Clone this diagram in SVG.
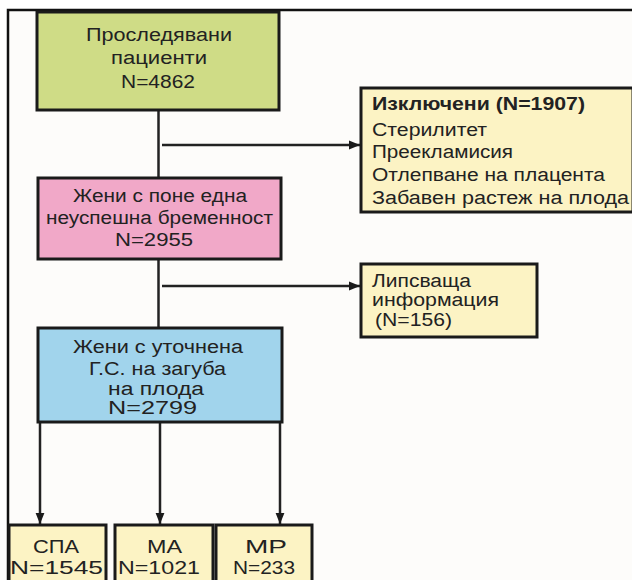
<svg xmlns="http://www.w3.org/2000/svg" width="632" height="580" viewBox="0 0 632 580">
<defs>
<marker id="ah" viewBox="0 0 10 10" refX="10" refY="5" markerWidth="11" markerHeight="11" markerUnits="userSpaceOnUse" orient="auto">
<path d="M0,1 L10,5 L0,9 Z" fill="#1a1a1a"/>
</marker>
<style>
.box{stroke:#1a1a1a;stroke-width:3}
.t{font-family:"Liberation Sans",Arial,sans-serif;font-size:18px;fill:#222}
.c{text-anchor:middle}
.b{font-weight:bold}
.ln{stroke:#222;stroke-width:2.5;fill:none}
</style>
</defs>
<rect x="0" y="0" width="632" height="580" fill="#ffffff"/>
<rect x="8" y="10" width="624" height="570" fill="#fdfcfa"/>
<path d="M8,580 V10 H632" fill="none" stroke="#111" stroke-width="2.5"/>

<g id="connectors">
<line class="ln" x1="158.5" y1="110" x2="158.5" y2="178"/>
<line class="ln" x1="162" y1="145" x2="360" y2="145" marker-end="url(#ah)"/>
<line class="ln" x1="158.5" y1="259" x2="158.5" y2="328"/>
<line class="ln" x1="162" y1="286" x2="360" y2="286" marker-end="url(#ah)"/>
<line class="ln" x1="40" y1="422" x2="40" y2="524" marker-end="url(#ah)"/>
<line class="ln" x1="160" y1="422" x2="160" y2="524" marker-end="url(#ah)"/>
<line class="ln" x1="280" y1="422" x2="280" y2="524" marker-end="url(#ah)"/>
</g>

<g id="n1">
<rect class="box" x="37" y="12" width="242" height="98" fill="#cfdc86"/>
<text class="t c" x="159" y="41" textLength="146" lengthAdjust="spacingAndGlyphs">Проследявани</text>
<text class="t c" x="159" y="64" textLength="96" lengthAdjust="spacingAndGlyphs">пациенти</text>
<text class="t c" x="158" y="88" textLength="74" lengthAdjust="spacingAndGlyphs">N=4862</text>
</g>

<g id="n2">
<rect class="box" x="38" y="178" width="243" height="81" fill="#f1a8c8"/>
<text class="t c" x="160" y="202" textLength="174" lengthAdjust="spacingAndGlyphs">Жени с поне една</text>
<text class="t c" x="159.5" y="224" textLength="227" lengthAdjust="spacingAndGlyphs">неуспешна бременност</text>
<text class="t c" x="154" y="246" textLength="78" lengthAdjust="spacingAndGlyphs">N=2955</text>
</g>

<g id="n3">
<rect class="box" x="38" y="328" width="244" height="94" fill="#a1d4ec"/>
<text class="t c" x="158" y="353" textLength="170" lengthAdjust="spacingAndGlyphs">Жени с уточнена</text>
<text class="t c" x="157.5" y="375" textLength="137" lengthAdjust="spacingAndGlyphs">Г.С. на загуба</text>
<text class="t c" x="156" y="395" textLength="96" lengthAdjust="spacingAndGlyphs">на плода</text>
<text class="t c" x="152.5" y="414" textLength="89" lengthAdjust="spacingAndGlyphs">N=2799</text>
</g>

<g id="excluded">
<rect class="box" x="361" y="88" width="272" height="124" fill="#fcf3c4"/>
<text class="t b" x="372" y="110" textLength="213" lengthAdjust="spacingAndGlyphs">Изключени (N=1907)</text>
<text class="t" x="372" y="136" textLength="115" lengthAdjust="spacingAndGlyphs">Стерилитет</text>
<text class="t" x="372" y="158" textLength="141" lengthAdjust="spacingAndGlyphs">Преекламисия</text>
<text class="t" x="372" y="181" textLength="233" lengthAdjust="spacingAndGlyphs">Отлепване на плацента</text>
<text class="t" x="372" y="204" textLength="257" lengthAdjust="spacingAndGlyphs">Забавен растеж на плода</text>
</g>

<g id="missing">
<rect class="box" x="361" y="264" width="176" height="73" fill="#fcf3c4"/>
<text class="t" x="372" y="287" textLength="99" lengthAdjust="spacingAndGlyphs">Липсваща</text>
<text class="t" x="372" y="306" textLength="127" lengthAdjust="spacingAndGlyphs">информация</text>
<text class="t" x="375" y="326" textLength="77" lengthAdjust="spacingAndGlyphs">(N=156)</text>
</g>

<g id="spa">
<rect class="box" x="9" y="525" width="97" height="60" fill="#fcf3c4"/>
<text class="t c" x="56" y="553" textLength="46" lengthAdjust="spacingAndGlyphs">СПА</text>
<text class="t c" x="56.5" y="574" textLength="93" lengthAdjust="spacingAndGlyphs">N=1545</text>
</g>

<g id="ma">
<rect class="box" x="115" y="525" width="98" height="60" fill="#fcf3c4"/>
<text class="t c" x="164.5" y="553" textLength="35" lengthAdjust="spacingAndGlyphs">МА</text>
<text class="t c" x="159" y="574" textLength="82" lengthAdjust="spacingAndGlyphs">N=1021</text>
</g>

<g id="mr">
<rect class="box" x="216" y="525" width="96" height="60" fill="#fcf3c4"/>
<text class="t c" x="266" y="553" textLength="42" lengthAdjust="spacingAndGlyphs">МР</text>
<text class="t c" x="264" y="574" textLength="62" lengthAdjust="spacingAndGlyphs">N=233</text>
</g>
</svg>
